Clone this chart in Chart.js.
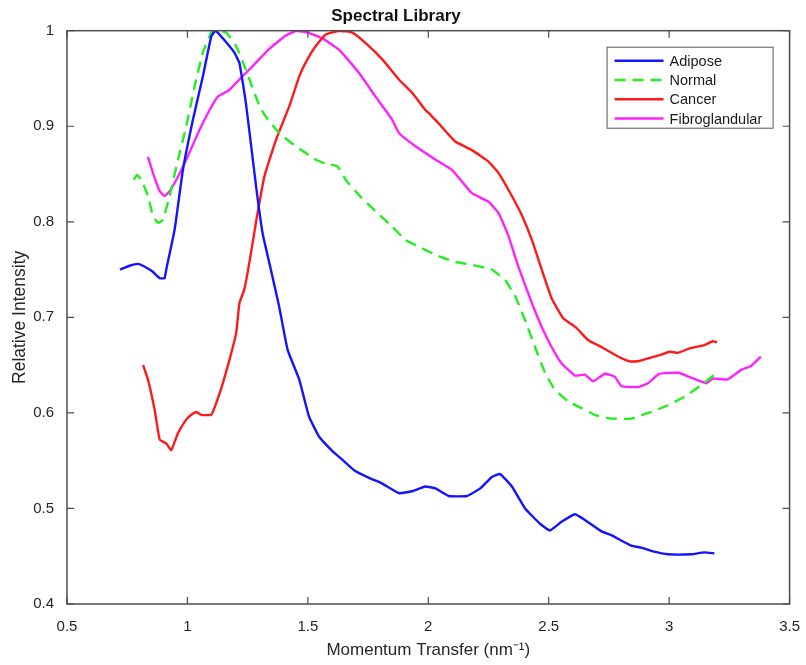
<!DOCTYPE html>
<html>
<head>
<meta charset="utf-8">
<script src="https://cdn.jsdelivr.net/npm/chart.js@4.4.1/dist/chart.umd.min.js"></script>
<style>
  html, body { margin: 0; padding: 0; background: #fff; }
  canvas { display: block; }
</style>
</head>
<body>
<canvas id="spectra" width="806" height="665"></canvas>
<script>
// values
const xTicks = [0.5, 1, 1.5, 2, 2.5, 3, 3.5];
const yTicks = [0.4, 0.5, 0.6, 0.7, 0.8, 0.9, 1];

const adiposeX = [0.72, 0.76, 0.795, 0.823, 0.855, 0.885, 0.905, 0.912, 0.947, 0.981, 1.023, 1.064, 1.099, 1.117, 1.147, 1.195, 1.216, 1.243, 1.285, 1.312, 1.34, 1.381, 1.416, 1.464, 1.505, 1.547, 1.602, 1.643, 1.692, 1.754, 1.809, 1.878, 1.933, 1.988, 2.03, 2.085, 2.16, 2.216, 2.264, 2.298, 2.347, 2.402, 2.464, 2.505, 2.553, 2.609, 2.65, 2.719, 2.76, 2.843, 2.884, 2.933, 2.995, 3.091, 3.146, 3.188];
const adiposeY = [0.75, 0.754, 0.756, 0.753, 0.748, 0.741, 0.741, 0.75, 0.792, 0.854, 0.907, 0.952, 0.994, 1.0, 0.992, 0.977, 0.966, 0.924, 0.837, 0.788, 0.757, 0.711, 0.666, 0.635, 0.596, 0.575, 0.56, 0.551, 0.54, 0.532, 0.526, 0.516, 0.518, 0.523, 0.521, 0.513, 0.513, 0.521, 0.533, 0.536, 0.523, 0.5, 0.484, 0.477, 0.486, 0.494, 0.488, 0.476, 0.472, 0.461, 0.459, 0.455, 0.452, 0.452, 0.454, 0.453];

const normalX = [0.777, 0.791, 0.809, 0.836, 0.857, 0.878, 0.898, 0.926, 0.961, 0.995, 1.03, 1.064, 1.099, 1.119, 1.161, 1.202, 1.243, 1.299, 1.326, 1.381, 1.45, 1.533, 1.574, 1.623, 1.657, 1.712, 1.781, 1.85, 1.905, 1.96, 2.043, 2.112, 2.181, 2.264, 2.319, 2.361, 2.402, 2.443, 2.485, 2.526, 2.581, 2.636, 2.691, 2.76, 2.843, 2.926, 2.995, 3.064, 3.133, 3.188];
const normalY = [0.844, 0.849, 0.844, 0.827, 0.806, 0.799, 0.802, 0.827, 0.865, 0.9, 0.942, 0.977, 0.998, 1.0, 0.998, 0.984, 0.959, 0.921, 0.91, 0.893, 0.879, 0.865, 0.861, 0.858, 0.844, 0.828, 0.811, 0.795, 0.781, 0.774, 0.764, 0.758, 0.755, 0.75, 0.739, 0.722, 0.697, 0.669, 0.642, 0.624, 0.612, 0.605, 0.598, 0.594, 0.594, 0.601, 0.608, 0.617, 0.629, 0.64];

const cancerX = [0.816, 0.836, 0.864, 0.885, 0.912, 0.933, 0.961, 0.995, 1.016, 1.037, 1.057, 1.099, 1.119, 1.147, 1.174, 1.202, 1.216, 1.236, 1.257, 1.285, 1.319, 1.368, 1.423, 1.464, 1.498, 1.533, 1.574, 1.63, 1.685, 1.74, 1.809, 1.878, 1.933, 1.988, 2.009, 2.043, 2.112, 2.181, 2.25, 2.292, 2.347, 2.388, 2.43, 2.471, 2.512, 2.56, 2.615, 2.664, 2.719, 2.788, 2.836, 2.871, 2.912, 2.967, 3.002, 3.037, 3.091, 3.146, 3.181, 3.199];
const cancerY = [0.65, 0.635, 0.603, 0.572, 0.568, 0.561, 0.579, 0.593, 0.598, 0.601, 0.598, 0.598, 0.61, 0.631, 0.655, 0.683, 0.715, 0.729, 0.757, 0.8, 0.847, 0.886, 0.921, 0.952, 0.97, 0.984, 0.996, 1.0, 0.998, 0.987, 0.97, 0.949, 0.935, 0.917, 0.912, 0.903, 0.884, 0.875, 0.863, 0.851, 0.827, 0.807, 0.781, 0.75, 0.72, 0.699, 0.689, 0.676, 0.669, 0.659, 0.654, 0.654, 0.657, 0.661, 0.664, 0.663, 0.668, 0.671, 0.675, 0.674];

const fibroX = [0.836, 0.857, 0.885, 0.905, 0.926, 0.954, 0.995, 1.05, 1.092, 1.126, 1.174, 1.216, 1.271, 1.34, 1.409, 1.453, 1.5, 1.561, 1.63, 1.712, 1.781, 1.85, 1.878, 1.947, 2.03, 2.099, 2.181, 2.25, 2.292, 2.333, 2.374, 2.43, 2.471, 2.512, 2.553, 2.609, 2.65, 2.684, 2.733, 2.774, 2.802, 2.871, 2.912, 2.96, 3.037, 3.091, 3.154, 3.181, 3.243, 3.299, 3.34, 3.381];
const fibroY = [0.868, 0.851, 0.832, 0.827, 0.832, 0.844, 0.865, 0.896, 0.917, 0.931, 0.938, 0.949, 0.963, 0.981, 0.995, 1.0, 0.998, 0.992, 0.98, 0.956, 0.931, 0.907, 0.893, 0.879, 0.865, 0.854, 0.83, 0.821, 0.809, 0.785, 0.753, 0.715, 0.69, 0.669, 0.652, 0.639, 0.64, 0.633, 0.641, 0.638, 0.628, 0.627, 0.631, 0.641, 0.642, 0.637, 0.631, 0.636, 0.635, 0.645, 0.649, 0.659];

const FONT = 'Liberation Sans, Arial, sans-serif';
const AXIS_GREY = '#4d4d4d';

const points = (xs, ys) => xs.map((x, i) => ({ x, y: ys[i] }));
// MATLAB style labels: 1 not 1.0
const tickLabel = (v) => String(+Number(v).toFixed(1));

const series = (label, xs, ys, color, dash = []) => ({
  label,
  data: points(xs, ys),
  borderColor: color,
  backgroundColor: color,
  borderWidth: 2.4,
  borderDash: dash,
  pointRadius: 0,
  tension: 0.12,
  fill: false,
});

// box round the axes plus inward ticks on every side
const boxPlugin = {
  id: 'box',
  afterDraw(chart) {
    const { ctx, chartArea: a, scales } = chart;
    ctx.save();
    ctx.strokeStyle = AXIS_GREY;
    ctx.lineWidth = 1.5;
    ctx.strokeRect(a.left, a.top, a.right - a.left, a.bottom - a.top);
    ctx.lineWidth = 1.2;
    ctx.beginPath();
    xTicks.forEach((v) => {
      const px = scales.x.getPixelForValue(v);
      ctx.moveTo(px, a.bottom); ctx.lineTo(px, a.bottom - 7);
      ctx.moveTo(px, a.top); ctx.lineTo(px, a.top + 7);
    });
    yTicks.forEach((v) => {
      const py = scales.y.getPixelForValue(v);
      ctx.moveTo(a.left, py); ctx.lineTo(a.left + 7, py);
      ctx.moveTo(a.right, py); ctx.lineTo(a.right - 7, py);
    });
    ctx.stroke();
    ctx.restore();
  },
};

// legend drawn inside the axes, top right
const insideLegend = {
  id: 'insideLegend',
  afterDraw(chart) {
    const { ctx, chartArea: a } = chart;
    const left = a.right - 183, top = a.top + 16, w = 166, h = 81;
    ctx.save();
    ctx.fillStyle = '#fff';
    ctx.fillRect(left, top, w, h);
    ctx.strokeStyle = '#555';
    ctx.lineWidth = 1;
    ctx.strokeRect(left + 0.5, top + 0.5, w, h);
    ctx.font = `14.5px ${FONT}`;
    ctx.textBaseline = 'middle';
    chart.data.datasets.forEach((ds, i) => {
      const y = top + 14 + i * 19.3;
      ctx.strokeStyle = ds.borderColor;
      ctx.lineWidth = 2.5;
      ctx.setLineDash(ds.borderDash);
      ctx.beginPath();
      ctx.moveTo(left + 8, y); ctx.lineTo(left + 57, y);
      ctx.stroke();
      ctx.setLineDash([]);
      ctx.fillStyle = '#1a1a1a';
      ctx.fillText(ds.label, left + 63, y + 1);
    });
    ctx.restore();
  },
};

new Chart(document.getElementById('spectra'), {
  type: 'line',
  data: {
    datasets: [
      series('Adipose', adiposeX, adiposeY, '#1414ff'),
      series('Normal', normalX, normalY, '#22ee22', [11, 7]),
      series('Cancer', cancerX, cancerY, '#ff1a1a'),
      series('Fibroglandular', fibroX, fibroY, '#ff22ff'),
    ],
  },
  options: {
    responsive: false,
    animation: false,
    layout: { padding: { top: 0, right: 14, left: 0, bottom: 0 } },
    plugins: {
      legend: { display: false },
      tooltip: { enabled: false },
      title: {
        display: true,
        text: 'Spectral Library',
        color: '#111',
        font: { family: FONT, size: 17, weight: 'bold', lineHeight: 1.1 },
        padding: { top: 7, bottom: 5 },
      },
    },
    scales: {
      x: {
        type: 'linear',
        min: 0.5,
        max: 3.5,
        afterFit: (s) => { s.height = 61; },
        afterBuildTicks: (s) => { s.ticks = xTicks.map((value) => ({ value })); },
        grid: { display: false },
        border: { display: false },
        ticks: { color: '#262626', padding: 6, font: { family: FONT, size: 15 }, callback: tickLabel },
        title: {
          display: true,
          text: 'Momentum Transfer (nm⁻¹)',
          color: '#262626',
          font: { family: FONT, size: 17 },
          padding: { top: 0, bottom: 4 },
        },
      },
      y: {
        min: 0.4,
        max: 1,
        afterFit: (s) => { s.width = 67; },
        afterBuildTicks: (s) => { s.ticks = yTicks.map((value) => ({ value })); },
        grid: { display: false },
        border: { display: false },
        ticks: { color: '#262626', padding: 5, font: { family: FONT, size: 15 }, callback: tickLabel },
        title: {
          display: true,
          text: 'Relative Intensity',
          color: '#262626',
          font: { family: FONT, size: 17.5 },
          padding: { top: 10, bottom: 0 },
        },
      },
    },
  },
  plugins: [boxPlugin, insideLegend],
});
</script>
</body>
</html>
